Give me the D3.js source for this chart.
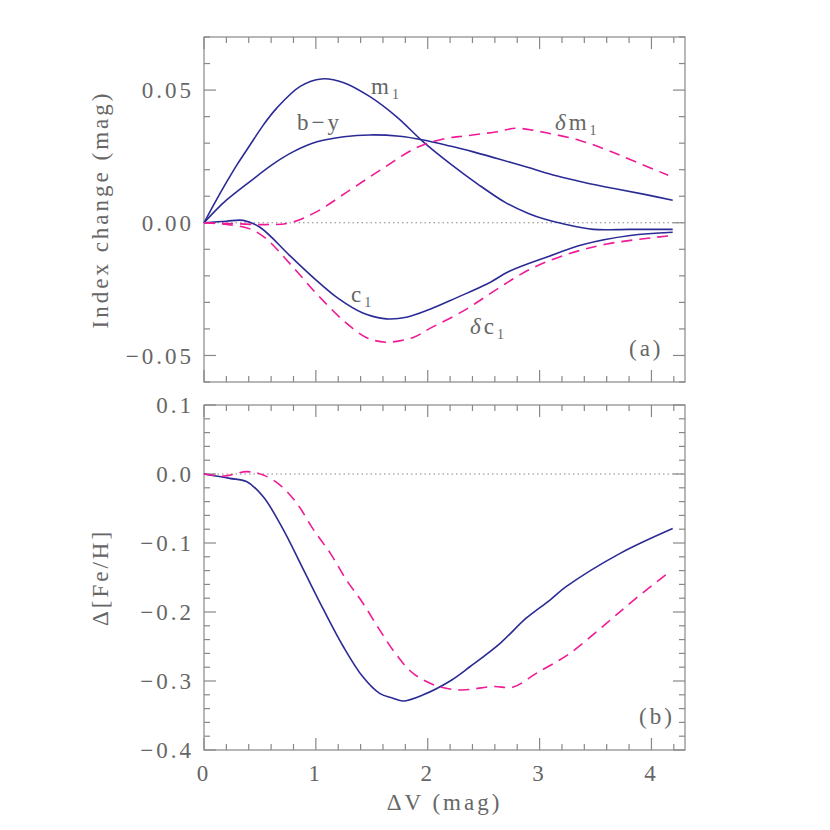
<!DOCTYPE html>
<html lang="en">
<head>
<meta charset="utf-8">
<title>Index change vs dV</title>
<script src="https://cdn.jsdelivr.net/npm/d3@7"></script>
<style>
  body { margin: 0; background: #fff; }
  .frame { fill: none; stroke: #888; stroke-width: 1.2; }
  .tick line { stroke: #888; stroke-width: 1.2; }
  .lab { font-family: "Liberation Serif", "DejaVu Serif", serif; font-size: 23px; fill: #666; letter-spacing: 3px; }
  .zero { stroke: #888; stroke-width: 1; stroke-dasharray: 1.5,3; }
  .solid { fill: none; stroke: #2b2b96; stroke-width: 1.6; }
  .dash { fill: none; stroke: #ee1a96; stroke-width: 1.6; stroke-dasharray: 11,7; }
</style>
</head>
<body>
<script>
// panel (a) data: index change (mag) vs dV
var m1 = [[0,0],[0.1,0.0078],[0.2,0.0152],[0.3,0.0222],[0.41,0.0292],[0.53,0.0368],[0.65,0.0432],[0.86,0.0514],[1.05,0.0542],[1.25,0.0528],[1.48,0.0476],[1.72,0.040],[1.96,0.0305],[2.2,0.0223],[2.45,0.0145],[2.7,0.0075],[2.9,0.0035],[3.05,0.0013],[3.21,-0.0004],[3.48,-0.0025],[3.8,-0.0025],[4.19,-0.0025]];
var by = [[0,0],[0.1,0.0045],[0.2,0.0085],[0.41,0.0155],[0.62,0.0222],[0.8,0.0268],[1.01,0.0305],[1.25,0.0324],[1.48,0.0331],[1.75,0.0326],[1.96,0.0312],[2.2,0.0289],[2.4,0.0268],[2.62,0.0242],[2.9,0.0208],[3.15,0.0177],[3.4,0.0152],[3.69,0.0127],[3.95,0.0106],[4.19,0.0085]];
var dm1 = [[0,0],[0.3,-0.0004],[0.55,-0.0007],[0.77,0],[1.0,0.004],[1.3,0.0122],[1.6,0.0205],[1.9,0.0283],[2.14,0.0316],[2.35,0.0328],[2.62,0.0343],[2.79,0.0356],[3.06,0.0339],[3.36,0.0310],[3.6,0.0275],[3.81,0.0238],[4.15,0.0179]];
var c1 = [[0,0],[0.2,0.0006],[0.35,0.0009],[0.5,-0.0017],[0.77,-0.0125],[1.0,-0.0215],[1.2,-0.0285],[1.42,-0.0340],[1.63,-0.0362],[1.81,-0.0356],[2.02,-0.0326],[2.26,-0.0282],[2.53,-0.0231],[2.73,-0.0183],[3.06,-0.013],[3.39,-0.0082],[3.81,-0.0048],[4.19,-0.0036]];
var dc1 = [[0,0],[0.2,-0.0006],[0.41,-0.0023],[0.55,-0.0058],[0.77,-0.0155],[1.01,-0.0269],[1.25,-0.037],[1.45,-0.0432],[1.63,-0.0450],[1.87,-0.0432],[2.02,-0.0398],[2.32,-0.0332],[2.62,-0.025],[2.91,-0.0176],[3.21,-0.0124],[3.6,-0.008],[4.19,-0.0048]];

// panel (b) data: delta [Fe/H] vs dV
var feSolid = [[0,0],[0.23,-0.0063],[0.38,-0.011],[0.53,-0.033],[0.71,-0.081],[0.89,-0.139],[1.07,-0.197],[1.245,-0.25],[1.42,-0.294],[1.57,-0.318],[1.69,-0.325],[1.78,-0.329],[1.96,-0.320],[2.2,-0.300],[2.38,-0.279],[2.65,-0.245],[2.88,-0.209],[3.09,-0.183],[3.24,-0.163],[3.72,-0.115],[4.19,-0.079]];
var feDash = [[0,0],[0.18,-0.003],[0.38,0.0034],[0.53,-0.0015],[0.68,-0.016],[0.83,-0.0425],[0.98,-0.081],[1.13,-0.115],[1.275,-0.154],[1.42,-0.187],[1.57,-0.226],[1.72,-0.262],[1.87,-0.289],[2.08,-0.307],[2.29,-0.313],[2.59,-0.308],[2.76,-0.309],[2.97,-0.289],[3.27,-0.26],[3.6,-0.216],[3.84,-0.183],[4.16,-0.142]];

var xTicks = [0, 1, 2, 3, 4];
var yTicksA = [-0.05, 0, 0.05];
var yTicksB = [-0.4, -0.3, -0.2, -0.1, 0.0, 0.1];

var width = 830, height = 830;
var left = 204, right = 685;
var svg = d3.select('body').append('svg')
    .attr('width', width)
    .attr('height', height)
    .attr('font-family', '"Liberation Serif", serif');

var x = d3.scaleLinear().domain([0, 4.3]).range([left, right]);
var yA = d3.scaleLinear().domain([-0.06, 0.07]).range([382, 37]);
var yB = d3.scaleLinear().domain([-0.4, 0.1]).range([750, 405]);

function fmtMinus(s){ return s.replace('-', '\u2212'); }

function panel(y, yMajor, yMinorStep, yFmt){
  var g = svg.append('g');
  var x0 = x.range()[0], x1 = x.range()[1];
  var y0 = y.range()[0], y1 = y.range()[1];
  g.append('rect').attr('class', 'frame')
    .attr('x', x0).attr('y', y1).attr('width', x1 - x0).attr('height', y0 - y1);

  // zero line
  g.append('line').attr('class', 'zero')
    .attr('x1', x0).attr('x2', x1).attr('y1', y(0)).attr('y2', y(0));

  var xMinor = d3.range(0, 4.3, 0.2);
  var ticks = g.append('g').attr('class', 'tick');
  xMinor.forEach(function(v){
    var major = Math.abs(v - Math.round(v)) < 1e-6;
    var len = major ? 12 : 6;
    ticks.append('line').attr('x1', x(v)).attr('x2', x(v)).attr('y1', y0).attr('y2', y0 - len);
    ticks.append('line').attr('x1', x(v)).attr('x2', x(v)).attr('y1', y1).attr('y2', y1 + len);
  });
  var d = y.domain();
  var yMinor = d3.range(Math.round(d[0] / yMinorStep), Math.round(d[1] / yMinorStep) + 1).map(function(k){ return k * yMinorStep; });
  yMinor.forEach(function(v){
    var major = yMajor.some(function(t){ return Math.abs(t - v) < 1e-9; });
    var len = major ? 12 : 6;
    ticks.append('line').attr('y1', y(v)).attr('y2', y(v)).attr('x1', x0).attr('x2', x0 + len);
    ticks.append('line').attr('y1', y(v)).attr('y2', y(v)).attr('x1', x1).attr('x2', x1 - len);
  });

  g.selectAll('.ylab').data(yMajor).enter().append('text')
    .attr('class', 'lab')
    .attr('x', x0 - 10)
    .attr('y', function(v){ return y(v); })
    .attr('dy', '0.35em')
    .attr('text-anchor', 'end')
    .text(function(v){ return fmtMinus(yFmt(v)); });
  return g;
}

var gA = panel(yA, yTicksA, 0.01, d3.format('.2f'));
var gB = panel(yB, yTicksB, 0.02, d3.format('.1f'));

// x tick labels on bottom panel
svg.selectAll('.xlab').data(xTicks).enter().append('text')
  .attr('class', 'lab')
  .attr('x', function(v){ return x(v); })
  .attr('y', 781)
  .attr('text-anchor', 'middle')
  .text(function(v){ return v; });

var line = function(y){
  return d3.line()
    .x(function(p){ return x(p[0]); })
    .y(function(p){ return y(p[1]); })
    .curve(d3.curveCatmullRom);
};

gA.append('path').datum(m1).attr('class', 'solid').attr('d', line(yA));
gA.append('path').datum(by).attr('class', 'solid').attr('d', line(yA));
gA.append('path').datum(c1).attr('class', 'solid').attr('d', line(yA));
gA.append('path').datum(dm1).attr('class', 'dash').attr('d', line(yA));
gA.append('path').datum(dc1).attr('class', 'dash').attr('d', line(yA));

gB.append('path').datum(feSolid).attr('class', 'solid').attr('d', line(yB));
gB.append('path').datum(feDash).attr('class', 'dash').attr('d', line(yB));

// curve labels
function label(g, px, py, delta, main, sub){
  var t = g.append('text').attr('class', 'lab').attr('x', px).attr('y', py);
  if (delta) t.append('tspan').style('font-style', 'italic').text('\u03b4');
  t.append('tspan').text(main);
  if (sub) t.append('tspan').attr('dy', 5).style('font-size', '14px').text(sub);
}
label(gA, 371, 94, false, 'm', '1');
label(gA, 297, 130, false, 'b\u2212y', null);
label(gA, 555, 130, true, 'm', '1');
label(gA, 351, 302, false, 'c', '1');
label(gA, 470, 334, true, 'c', '1');
label(gA, 629, 356, false, '(a)', null);
label(gB, 639, 724, false, '(b)', null);

// axis titles
svg.append('text').attr('class', 'lab')
  .attr('transform', 'translate(108,' + yA(0.005) + ') rotate(-90)')
  .attr('text-anchor', 'middle')
  .text('Index change (mag)');
svg.append('text').attr('class', 'lab')
  .attr('transform', 'translate(108,' + yB(-0.15) + ') rotate(-90)')
  .attr('text-anchor', 'middle')
  .text('\u0394[Fe/H]');
svg.append('text').attr('class', 'lab')
  .attr('x', x(2.15)).attr('y', 810)
  .attr('text-anchor', 'middle')
  .text('\u0394V (mag)');
</script>
</body>
</html>
